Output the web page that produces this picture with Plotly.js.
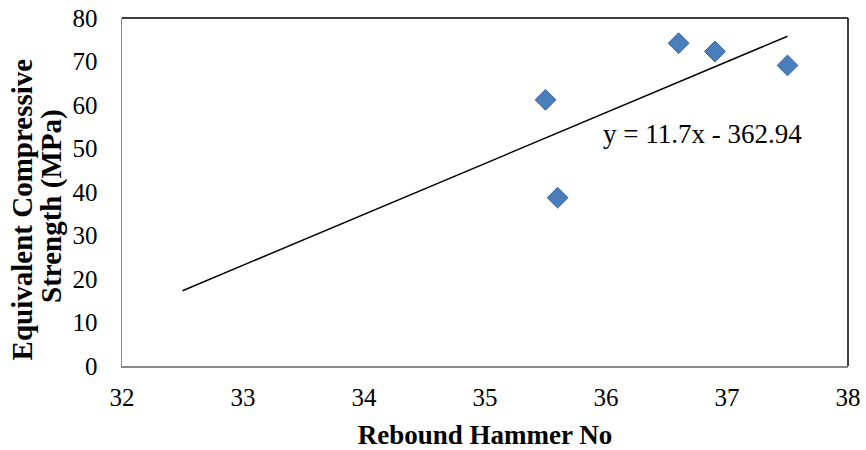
<!DOCTYPE html>
<html>
<head>
<meta charset="utf-8">
<script src="https://cdn.plot.ly/plotly-3.0.1.min.js"></script>
<style>html,body{margin:0;padding:0;background:#fff;}#chart{width:866px;height:450px;}</style>
</head>
<body>
<div id="chart"></div>
<script>
const reboundNo = [35.5, 35.6, 36.6, 36.9, 37.5];
const strength = [61.2, 38.7, 74.2, 72.3, 69.1];
const trendSlope = 11.7;
const trendIntercept = -362.94;
const trendRange = [32.5, 37.5];
const xTicks = [32, 33, 34, 35, 36, 37, 38];
const yTicks = [0, 10, 20, 30, 40, 50, 60, 70, 80];
const xTitle = 'Rebound Hammer No';
const yTitleLines = ['Equivalent Compressive', 'Strength (MPa)'];

const trendX = trendRange;
const trendY = trendRange.map(x => trendSlope * x + trendIntercept);
const eqText = 'y = ' + trendSlope + 'x - ' + Math.abs(trendIntercept);

const font = "Liberation Serif";

const data = [
  {x: trendX, y: trendY, mode: 'lines', type: 'scatter',
   line: {color: '#000', width: 1.5}, hoverinfo: 'skip'},
  {x: reboundNo, y: strength, mode: 'markers', type: 'scatter',
   marker: {symbol: 'diamond', size: 16, color: '#4A7EBB', line: {color: '#35659E', width: 1}}}
];

const layout = {
  width: 866, height: 450,
  margin: {l: 122, r: 18, t: 18, b: 84},
  paper_bgcolor: '#fff', plot_bgcolor: '#fff',
  showlegend: false,
  font: {family: font, color: '#000', size: 25},
  xaxis: {range: [32, 38], tickvals: xTicks, ticktext: xTicks.map(String),
    showgrid: false, zeroline: false, showline: true, linecolor: '#888', linewidth: 1.5,
    ticks: '', ticklabelstandoff: 8, tickfont: {family: font, size: 25, color: '#000'},
    title: {text: '<b>' + xTitle + '</b>', font: {family: font, size: 27, color: '#000'}, standoff: 18}},
  yaxis: {range: [0, 80], tickvals: yTicks, ticktext: yTicks.map(String),
    showgrid: false, zeroline: false, showline: true, linecolor: '#888', linewidth: 1.5,
    ticks: '', ticklabelstandoff: 18, tickfont: {family: font, size: 25, color: '#000'}},
  shapes: [
    {type: 'line', xref: 'paper', yref: 'paper', x0: 0, x1: 1, y0: 1, y1: 1, line: {color: '#000', width: 1.5}},
    {type: 'line', xref: 'paper', yref: 'paper', x0: 1, x1: 1, y0: 0, y1: 1, line: {color: '#000', width: 1.5}}
  ],
  annotations: [
    {x: 36.8, y: 53.3, xref: 'x', yref: 'y', text: eqText, showarrow: false,
     font: {family: font, size: 27, color: '#000'}},
    {x: -0.1377, y: 0.45, xref: 'paper', yref: 'paper', text: '<b>' + yTitleLines[0] + '</b>',
     textangle: -90, showarrow: false, xanchor: 'center', yanchor: 'middle',
     font: {family: font, size: 29, color: '#000'}},
    {x: -0.0964, y: 0.46, xref: 'paper', yref: 'paper', text: '<b>' + yTitleLines[1] + '</b>',
     textangle: -90, showarrow: false, xanchor: 'center', yanchor: 'middle',
     font: {family: font, size: 29, color: '#000'}}
  ]
};

Plotly.newPlot('chart', data, layout, {displayModeBar: false, staticPlot: true});
</script>
</body>
</html>
